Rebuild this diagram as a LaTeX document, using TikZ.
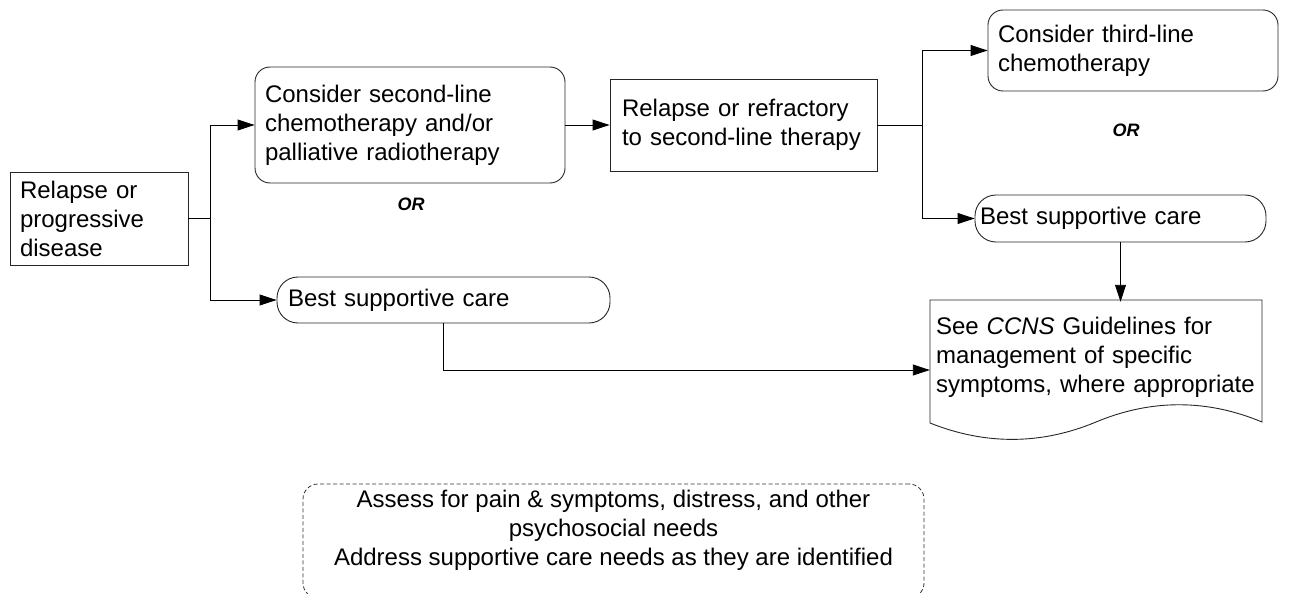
\documentclass[tikz,border=0pt]{standalone}
\usepackage{fontspec}
\setmainfont{Liberation Sans}
\usetikzlibrary{arrows.meta}

\begin{document}
\begin{tikzpicture}[x = 1pt, y = -1pt,
		every node/.style = {font = \fontsize{24}{29}\selectfont},
		box/.style = {draw = black!85, line width = 0.9pt, align = left, inner ysep = 0pt},
		rbox/.style = {box, rounded corners = 15pt},
		pill/.style = {box, rounded corners = 21pt},
		dashbox/.style = {draw = black!80, line width = 0.8pt, dash pattern = on 4pt off 2.5pt, rounded corners = 15pt},
		arr/.style = {-{Triangle[length = 17pt, width = 11pt]}, line width = 0.9pt},
		ortext/.style = {font = \fontsize{18}{21}\selectfont\bfseries\itshape}]
		\useasboundingbox (0, 0) rectangle (1302, 594);
		\node[box, text width = 158pt, inner xsep = 10pt, minimum height = 93pt] (relapse) at (99, 218.5) {Relapse or\\progressive\\disease};
		\node[rbox, text width = 290pt, inner xsep = 10pt, minimum height = 116pt] (second) at (410, 125) {Consider second-line\\chemotherapy and/or\\palliative radiotherapy};
		\node[box, text width = 243pt, inner xsep = 12pt, minimum height = 92pt] (refract) at (743.5, 125) {Relapse or refractory\\to second-line therapy};
		\node[rbox, text width = 270pt, inner xsep = 10pt, minimum height = 81pt] (third) at (1133, 50.5) {Consider third-line\\chemotherapy};
		\node[pill, text width = 311pt, inner xsep = 11pt, minimum height = 46pt] (bsc1) at (443.5, 300) {Best supportive care};
		\node[pill, text width = 281pt, inner xsep = 5pt, minimum height = 47pt] (bsc2) at (1120.5, 218.5) {Best supportive care};
		\node[align = left, text width = 320pt, inner xsep = 6pt, inner ysep = 0pt, minimum height = 110pt] (ccns) at (1096, 357) {See \textit{CCNS} Guidelines for\\management of specific\\symptoms, where appropriate};
		\draw[draw = black!85, line width = 0.9pt] (930, 300) -- (1262, 300) -- (1262, 422)
			.. controls (1207, 399) and (1151, 399) .. (1096, 422)
			.. controls (1041, 445) and (985, 445) .. (930, 423) -- cycle;
		\node[ortext] (or1) at (411, 204) {OR};
		\node[ortext] (or2) at (1126, 130) {OR};
		% arrows
		\draw[line width = 0.9pt] (relapse.east) -- ++(22, 0) coordinate (split1);
		\draw[arr] (split1) |- (second.west);
		\draw[arr] (split1) |- (bsc1.west);
		\draw[arr] (second.east) -- (refract.west);
		\draw[line width = 0.9pt] (refract.east) -- ++(45, 0) coordinate (split2);
		\draw[arr] (split2) |- (third.west);
		\draw[arr] (split2) |- (bsc2.west);
		\draw[arr] (bsc2.south) -- (bsc2.south |- ccns.north);
		\draw[arr] (bsc1.south) |- ([yshift = -13pt]ccns.west);
		% supportive care note
		\node[dashbox, minimum width = 621pt, minimum height = 114pt] (assess) at (613.5, 541) {};
		\node[align = center] (assesstext) at (613.5, 530) {Assess for pain \& symptoms, distress, and other\\psychosocial needs\\Address supportive care needs as they are identified};
	\end{tikzpicture}
\end{document}
